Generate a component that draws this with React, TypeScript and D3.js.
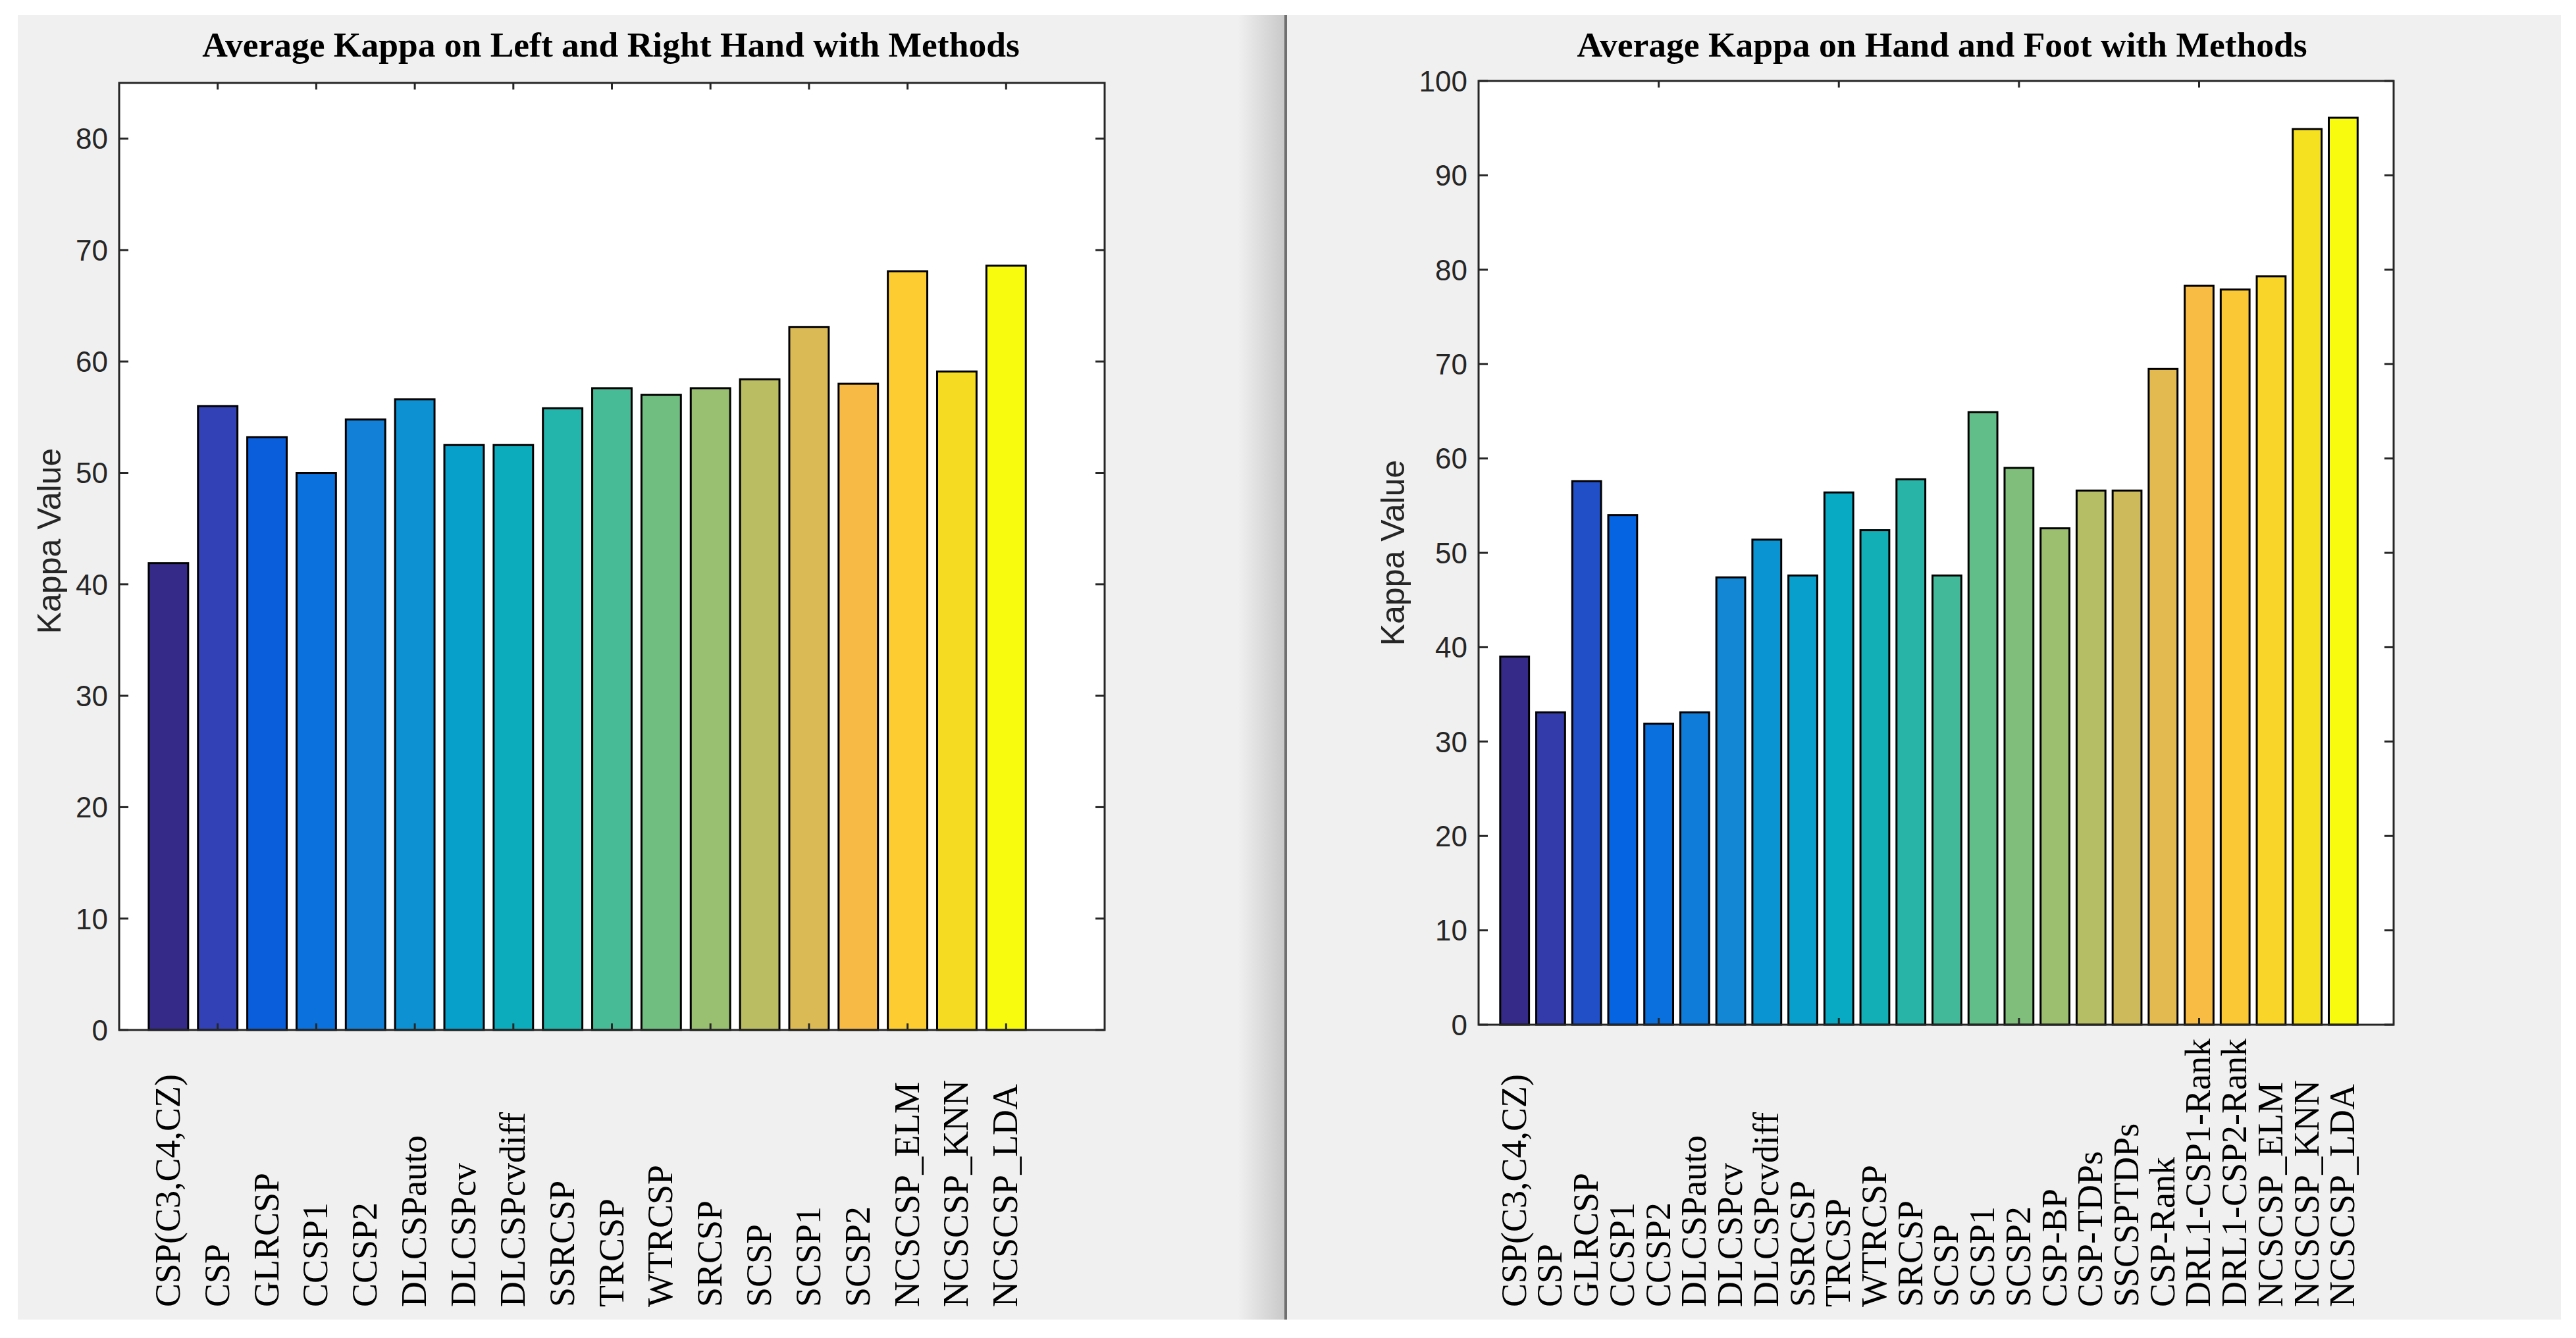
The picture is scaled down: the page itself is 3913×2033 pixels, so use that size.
import React from 'react';
import * as d3 from 'd3';

// left chart: left / right hand
const handMethods = [
  'CSP(C3,C4,CZ)', 'CSP', 'GLRCSP', 'CCSP1', 'CCSP2', 'DLCSPauto', 'DLCSPcv', 'DLCSPcvdiff',
  'SSRCSP', 'TRCSP', 'WTRCSP', 'SRCSP', 'SCSP', 'SCSP1', 'SCSP2', 'NCSCSP_ELM', 'NCSCSP_KNN', 'NCSCSP_LDA',
];
const handKappa = [41.9, 56.0, 53.2, 50.0, 54.8, 56.6, 52.5, 52.5, 55.8, 57.6, 57.0, 57.6, 58.4, 63.1, 58.0, 68.1, 59.1, 68.6];
const handYTicks = [0, 10, 20, 30, 40, 50, 60, 70, 80];
const handTopTicks = [2, 4, 6, 8, 10, 12, 14, 16, 18];

// right chart: hand and foot
const footMethods = [
  'CSP(C3,C4,CZ)', 'CSP', 'GLRCSP', 'CCSP1', 'CCSP2', 'DLCSPauto', 'DLCSPcv', 'DLCSPcvdiff',
  'SSRCSP', 'TRCSP', 'WTRCSP', 'SRCSP', 'SCSP', 'SCSP1', 'SCSP2', 'CSP-BP', 'CSP-TDPs', 'SSCSPTDPs',
  'CSP-Rank', 'DRL1-CSP1-Rank', 'DRL1-CSP2-Rank', 'NCSCSP_ELM', 'NCSCSP_KNN', 'NCSCSP_LDA',
];
const footKappa = [39.0, 33.1, 57.6, 54.0, 31.9, 33.1, 47.4, 51.4, 47.6, 56.4, 52.4, 57.8, 47.6, 64.9, 59.0, 52.6, 56.6, 56.6, 69.5, 78.3, 77.9, 79.3, 94.9, 96.1];
const footYTicks = [0, 10, 20, 30, 40, 50, 60, 70, 80, 90, 100];
const footTopTicks = [5, 10, 15, 20];

// parula colormap stops (position in 0..63, rgb)
const parulaPos = [0, 4, 8, 12, 16, 20, 24, 28, 32, 36, 40, 44, 48, 52, 56, 60, 62, 63];
const parulaRgb = [
  [0.2081, 0.1663, 0.5292], [0.1959, 0.2645, 0.7279], [0.0117, 0.3875, 0.882], [0.0498, 0.4586, 0.8641],
  [0.0793, 0.52, 0.8312], [0.0343, 0.5966, 0.8199], [0.0228, 0.6535, 0.7768], [0.0843, 0.6928, 0.7062],
  [0.2178, 0.725, 0.6193], [0.3953, 0.7459, 0.5244], [0.5709, 0.7485, 0.4494], [0.7184, 0.7411, 0.3905],
  [0.8507, 0.7299, 0.336], [0.9738, 0.7314, 0.2666], [0.988, 0.8066, 0.1794], [0.9626, 0.8705, 0.1309],
  [0.9661, 0.9514, 0.0755], [0.9763, 0.9831, 0.0538],
];
const parula = d3.scaleLinear<string>()
  .domain(parulaPos.map((p) => p / 63))
  .range(parulaRgb.map(([r, g, b]) => d3.rgb(r * 255, g * 255, b * 255).toString()))
  .interpolate(d3.interpolateRgb);

const AXIS = '#262626';
const SERIF = '"Liberation Serif", "Times New Roman", serif';
const SANS = '"Liberation Sans", Arial, sans-serif';

type PanelProps = {
  title: string;
  methods: string[];
  values: number[];
  yTicks: number[];
  topTicks: number[];
  xDomain: [number, number];
  yMax: number;
  left: number;
  right: number;
  top: number;
  bottom: number;
  titleX: number;
  ylabelX: number;
  ylabelY: number;
};

const Panel = (p: PanelProps) => {
  const x = d3.scaleLinear().domain(p.xDomain).range([p.left, p.right]);
  const y = d3.scaleLinear().domain([0, p.yMax]).range([p.bottom, p.top]);
  const unit = x(1) - x(0);
  const bw = unit * 0.8;
  return (
    <g>
      <text x={p.titleX} y={86} textAnchor="middle" fontFamily={SERIF} fontWeight="bold" fontSize={53.5} fill="#000">
        {p.title}
      </text>
      <rect x={p.left} y={p.top} width={p.right - p.left} height={p.bottom - p.top} fill="#fff" />
      {p.values.map((v, i) => (
        <rect
          key={i}
          x={x(i + 1) - bw / 2}
          y={y(v)}
          width={bw}
          height={y(0) - y(v)}
          fill={parula(i / (p.values.length - 1))}
          stroke="#000"
          strokeWidth={3}
        />
      ))}
      {p.yTicks.map((t) => (
        <g key={t}>
          <line x1={p.left} x2={p.left + 14} y1={y(t)} y2={y(t)} stroke={AXIS} strokeWidth={3} />
          <line x1={p.right} x2={p.right - 14} y1={y(t)} y2={y(t)} stroke={AXIS} strokeWidth={3} />
          <text x={p.left - 17} y={y(t)} dy="0.36em" textAnchor="end" fontFamily={SANS} fontSize={44} fill={AXIS}>
            {t}
          </text>
        </g>
      ))}
      {p.topTicks.map((t) => (
        <g key={t}>
          <line x1={x(t)} x2={x(t)} y1={p.top} y2={p.top + 10} stroke={AXIS} strokeWidth={3} />
          <line x1={x(t)} x2={x(t)} y1={p.bottom} y2={p.bottom - 10} stroke={AXIS} strokeWidth={3} />
        </g>
      ))}
      <rect x={p.left} y={p.top} width={p.right - p.left} height={p.bottom - p.top} fill="none" stroke={AXIS} strokeWidth={3} />
      {p.methods.map((m, i) => (
        <text
          key={m + i}
          transform={`translate(${x(i + 1) + 17},1986) rotate(-90)`}
          textAnchor="start"
          fontFamily={SERIF}
          fontSize={54}
          fill="#000"
        >
          {m}
        </text>
      ))}
      <text
        transform={`translate(${p.ylabelX},${p.ylabelY}) rotate(-90)`}
        textAnchor="middle"
        fontFamily={SANS}
        fontSize={50}
        fill={AXIS}
      >
        Kappa Value
      </text>
    </g>
  );
};

export default function App() {
  return (
    <svg width={3913} height={2033} style={{ position: 'absolute', left: 0, top: 0, display: 'block' }}>
      <defs>
        <linearGradient id="shade" x1="0" x2="1" y1="0" y2="0">
          <stop offset="0" stopColor="#f0f0f0" />
          <stop offset="1" stopColor="#c9c9c9" />
        </linearGradient>
      </defs>
      <rect x={0} y={0} width={3913} height={2033} fill="#fff" />
      <rect x={27} y={23} width={1926} height={1982} fill="#f0f0f0" />
      <rect x={1880} y={23} width={71} height={1982} fill="url(#shade)" />
      <rect x={1951} y={23} width={4} height={1982} fill="#707070" />
      <rect x={1955} y={23} width={1935} height={1982} fill="#f0f0f0" />
      <Panel
        title="Average Kappa on Left and Right Hand with Methods"
        methods={handMethods}
        values={handKappa}
        yTicks={handYTicks}
        topTicks={handTopTicks}
        xDomain={[0, 20]}
        yMax={85}
        left={181}
        right={1678}
        top={126}
        bottom={1565}
        titleX={928}
        ylabelX={92}
        ylabelY={822}
      />
      <Panel
        title="Average Kappa on Hand and Foot with Methods"
        methods={footMethods}
        values={footKappa}
        yTicks={footYTicks}
        topTicks={footTopTicks}
        xDomain={[0, 25.4]}
        yMax={100}
        left={2246}
        right={3636}
        top={123}
        bottom={1557}
        titleX={2950}
        ylabelX={2133}
        ylabelY={840}
      />
    </svg>
  );
}
